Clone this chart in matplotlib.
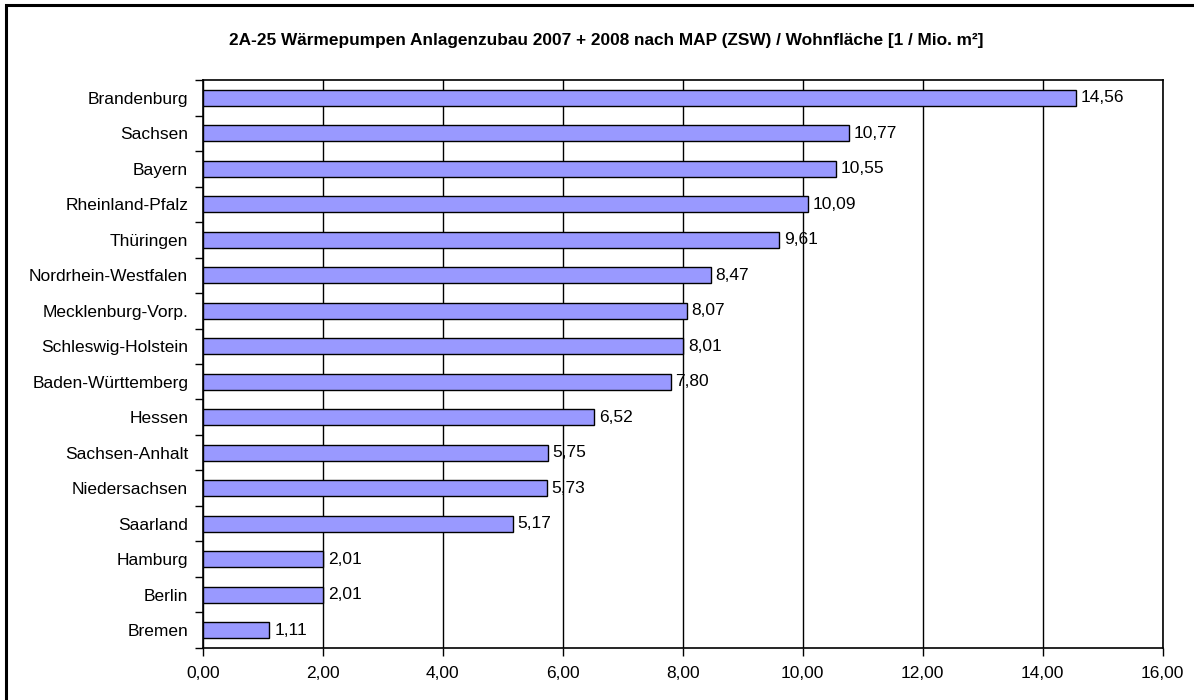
import matplotlib.pyplot as plt
from matplotlib.patches import Rectangle
from matplotlib.ticker import FixedLocator, FuncFormatter

plt.rcParams["font.family"] = ["Liberation Sans", "DejaVu Sans"]

# Bundesländer, sorted as in the source table (top to bottom)
laender = [
    "Brandenburg", "Sachsen", "Bayern", "Rheinland-Pfalz", "Thüringen",
    "Nordrhein-Westfalen", "Mecklenburg-Vorp.", "Schleswig-Holstein",
    "Baden-Württemberg", "Hessen", "Sachsen-Anhalt", "Niedersachsen",
    "Saarland", "Hamburg", "Berlin", "Bremen",
]
werte = [
    14.56, 10.77, 10.55, 10.09, 9.61, 8.47, 8.07, 8.01,
    7.80, 6.52, 5.75, 5.73, 5.17, 2.01, 2.01, 1.11,
]
x_ticks = [0, 2, 4, 6, 8, 10, 12, 14, 16]

TITLE = ("2A-25 Wärmepumpen Anlagenzubau 2007 + 2008 nach MAP (ZSW) / "
         "Wohnfläche [1 / Mio. m²]")


def de(v, _pos=None):
    return f"{v:.2f}".replace(".", ",")


fig = plt.figure(figsize=(11.94, 7.0), dpi=100)
ax = fig.add_axes([0.1698, 0.0743, 0.8040, 0.8114])

n = len(laender)
ypos = list(range(n - 1, -1, -1))
ax.barh(ypos, werte, height=0.45, color="#9999ff", edgecolor="black",
        linewidth=1.0, zorder=3)

for y, v in zip(ypos, werte):
    ax.text(v + 0.08, y, de(v), va="center", ha="left", fontsize=12.5,
            color="black", zorder=4)

ax.set_xlim(0, 16)
ax.set_ylim(-0.5, n - 0.5)
ax.xaxis.set_major_locator(FixedLocator(x_ticks))
ax.xaxis.set_major_formatter(FuncFormatter(de))
ax.set_yticks(ypos)
ax.set_yticklabels(laender)
ax.yaxis.set_minor_locator(FixedLocator([i - 0.5 for i in range(n + 1)]))

ax.tick_params(axis="y", which="major", length=0, pad=10.5, labelsize=12.5)
ax.tick_params(axis="y", which="minor", length=6, width=1, direction="out")
ax.tick_params(axis="x", which="major", length=6, width=1, direction="out",
               pad=7, labelsize=12.5)

ax.grid(axis="x", color="black", linewidth=1.0, zorder=0)
ax.set_axisbelow(True)
for spine in ax.spines.values():
    spine.set_color("black")
    spine.set_linewidth(1.2)

fig.text(0.508, 0.942, TITLE, ha="center", va="center", fontsize=12.4,
         fontweight="bold")

# chart area frame
fig.patches.append(Rectangle((6 / 1194, -0.05), 1.2, (700 - 5) / 700 + 0.05,
                             transform=fig.transFigure, fill=False,
                             edgecolor="black", linewidth=2.2))

fig.savefig("out.png", dpi=100)
